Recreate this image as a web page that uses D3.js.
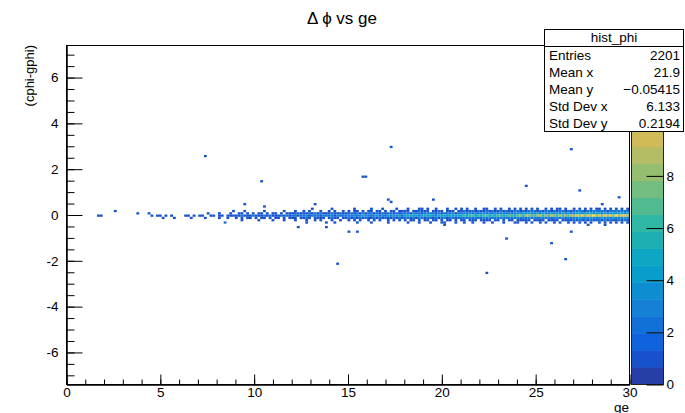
<!DOCTYPE html>
<html><head><meta charset="utf-8">
<script src="https://cdn.jsdelivr.net/npm/d3@7/dist/d3.min.js"></script>
<style>
body{margin:0;background:#fff}
svg{display:block}
text{font-family:"Liberation Sans",Arial,Helvetica,sans-serif;fill:#000}
</style>
</head><body>
<svg id="chart" width="685" height="413"></svg>
<script>
// ---------------- data ----------------
const chartTitle = "Δ ϕ vs ge";
const xTitle = "ge";
const yTitle = "(cphi-gphi)";
const xDomain = [0, 30];
const yDomain = [-7.4, 7.4];
const zDomain = [0, 13];
const xBinWidth = 0.15;
const yBinWidth = 0.1;
const xMajorTicks = [0, 5, 10, 15, 20, 25, 30];
const yMajorTicks = [-6, -4, -2, 0, 2, 4, 6];
const zTicks = [0, 2, 4, 6, 8];
const nContours = 20;

// y-bin index (in units of yBinWidth) of each row string below
const rowBins = [2, 1, 0, -1, -2, -3, -4];
// counts per x-bin (200 bins, base-36 digits), one string per y row
const rowCounts = [
  "00000000000000000000"+"00000000000000000000"+"00000000000000000000"+"00000000000000000000"+"00000001000000100000"+"00100000100010000100"+"01000100100100010010"+"10100100110010100101"+"01010101001010110100"+"10101010110101010101",
  "00000000000000000100"+"00000000000000000000"+"00000000000000000001"+"00010000001000000100"+"01001010001001010010"+"10110101101101011011"+"11011211101121011101"+"12112121121211212112"+"21212221212212122121"+"22321222322212232222",
  "00000000000000000000"+"00000100010000000000"+"00000000001000100010"+"01101010110101101011"+"11211121212111211211"+"12121212212121221212"+"22132212322131222312"+"23232323323232332323"+"33434334343343434343"+"34434443443434434434",
  "00000000000110000000"+"00000000001011010100"+"00110101100110110111"+"11211121112121112121"+"22122312221322213222"+"32323433234232433342"+"44545345454354545445"+"56567565675657656765"+"78698778968798697879"+"8a9b8a9c9a8b9a8c9ab9",
  "00000000000000000000"+"00000000000000100010"+"00001000010000100100"+"10101101011010110101"+"11011210111101211011"+"21212121121212112121"+"22121321221212312212"+"23222322323232232322"+"32323232332323323232"+"33433343334333433343",
  "00000000000000000000"+"00000000000000000000"+"00000000000000000000"+"00100000100001000100"+"01000100101000100100"+"10101001010100101010"+"10110101101101011010"+"11011101111011010110"+"11111011110111101111"+"21212121121212112121",
  "00000000000000000000"+"00000000000000000000"+"00000000000000001000"+"00000000000000000000"+"00000100000000010000"+"00010000100000100000"+"01000100010000100010"+"01001000100100010001"+"10010100101001010010"+"10101010010101010101"
];
// isolated single entries [x, y]
const outlierX = [7.35, 10.4, 17.26, 15.85, 15.95, 26.9, 24.45, 27.3, 29.5, 28.6, 23.5, 26.9, 20.2, 19.55, 25.8, 22.4, 26.6, 14.4, 13.85, 13.9, 12.3, 9.55, 17.1, 17.3, 13.2, 10.6, 15.0, 15.55, 18.9, 8.5, 27.8, 28.7, 20.0];
const outlierY = [2.5, 1.46, 2.98, 1.67, 1.67, 2.9, 1.28, 1.02, 0.77, 0.4, -1.07, -0.72, -0.49, 0.63, -1.24, -2.6, -2.0, -2.15, -0.6, -0.38, -0.53, 0.41, 0.7, 0.5, 0.41, 0.33, -0.72, -0.72, 0.3, -0.38, -0.43, -0.49, -0.37];

const statsName = "hist_phi";
const statsLabels = ["Entries", "Mean x", "Mean y", "Std Dev x", "Std Dev y"];
const statsValues = ["2201", "21.9", "\u22120.05415", "6.133", "0.2194"];

// kBird palette stops
const birdStops = [0, 0.125, 0.25, 0.375, 0.5, 0.625, 0.75, 0.875, 1];
const birdR = [0.2082, 0.0592, 0.0780, 0.0232, 0.1802, 0.5301, 0.8186, 0.9956, 0.9764];
const birdG = [0.1664, 0.3599, 0.5041, 0.6419, 0.7178, 0.7492, 0.7328, 0.7862, 0.9832];
const birdB = [0.5293, 0.8684, 0.8385, 0.7914, 0.6425, 0.4662, 0.3499, 0.1968, 0.0539];

// ---------------- layout ----------------
const frame = {left: 66, right: 629, top: 45, bottom: 384};
const cbar = {left: 631, right: 663};

const svg = d3.select("#chart");
const x = d3.scaleLinear().domain(xDomain).range([frame.left, frame.right]);
const y = d3.scaleLinear().domain(yDomain).range([frame.bottom, frame.top]);
const z = d3.scaleLinear().domain(zDomain).range([frame.bottom, frame.top]);

const rs = d3.scaleLinear().domain(birdStops).range(birdR);
const gs = d3.scaleLinear().domain(birdStops).range(birdG);
const bs = d3.scaleLinear().domain(birdStops).range(birdB);
const nCol = 255;
function bandColor(band) {
  const k = Math.floor((band + 0.99) * nCol / nContours);
  const t = Math.min(k, nCol - 1) / (nCol - 1);
  return d3.rgb(rs(t) * 255, gs(t) * 255, bs(t) * 255).formatHex();
}
function valueColor(v) {
  const band = Math.floor(0.01 + (v - zDomain[0]) * nContours / (zDomain[1] - zDomain[0]));
  return bandColor(Math.min(band, nContours - 1));
}

// build cells
const cellMap = new Map();
rowCounts.forEach((s, r) => {
  for (let i = 0; i < s.length; i++) {
    const c = parseInt(s[i], 36);
    if (c > 0) cellMap.set(i + "," + rowBins[r], c);
  }
});
outlierX.forEach((ox, j) => {
  const ix = Math.floor(ox / xBinWidth), iy = Math.floor(outlierY[j] / yBinWidth);
  const key = ix + "," + iy;
  cellMap.set(key, (cellMap.get(key) || 0) + 1);
});
const cells = Array.from(cellMap, ([k, c]) => { const [ix, iy] = k.split(",").map(Number); return {ix, iy, c}; });

svg.append("g").selectAll("rect").data(cells).join("rect")
  .attr("x", d => x(d.ix * xBinWidth))
  .attr("width", d => x((d.ix + 1) * xBinWidth) - x(d.ix * xBinWidth))
  .attr("y", d => y((d.iy + 1) * yBinWidth))
  .attr("height", d => y(d.iy * yBinWidth) - y((d.iy + 1) * yBinWidth))
  .attr("fill", d => valueColor(d.c));

// frame
svg.append("rect").attr("x", frame.left + 0.5).attr("y", frame.top + 0.5)
  .attr("width", frame.right - frame.left).attr("height", frame.bottom - frame.top)
  .attr("fill", "none").attr("stroke", "#000");

const fontSize = 13.5;
// x axis
const xMinor = d3.range(xDomain[0], xDomain[1] + 0.001, 1);
const gx = svg.append("g").attr("transform", `translate(0.5,${frame.bottom + 0.5})`);
gx.call(d3.axisBottom(x).tickValues(xMinor).tickSizeInner(-5).tickSizeOuter(0).tickFormat(""));
gx.append("g").call(d3.axisBottom(x).tickValues(xMajorTicks).tickSizeInner(-10).tickSizeOuter(0).tickPadding(3).tickFormat(d3.format("d")));
gx.selectAll(".domain").attr("stroke", "#000");
gx.selectAll("line").attr("stroke", "#000");
gx.selectAll("text").attr("font-size", fontSize).attr("font-family", null);

// y axis
const yMinor = d3.range(-7, 7.001, 0.5);
const gy = svg.append("g").attr("transform", `translate(${frame.left + 0.5},0.5)`);
gy.call(d3.axisLeft(y).tickValues(yMinor).tickSizeInner(-8).tickSizeOuter(0).tickFormat(""));
gy.append("g").call(d3.axisLeft(y).tickValues(yMajorTicks).tickSizeInner(-16).tickSizeOuter(0).tickPadding(8).tickFormat(d => d < 0 ? "-" + Math.abs(d) : String(d)));
gy.selectAll(".domain").attr("stroke", "#000");
gy.selectAll("line").attr("stroke", "#000");
gy.selectAll("text").attr("font-size", fontSize).attr("font-family", null);

// colour bar
const bands = d3.range(nContours);
const bandH = (zDomain[1] - zDomain[0]) / nContours;
svg.append("g").selectAll("rect").data(bands).join("rect")
  .attr("x", cbar.left).attr("width", cbar.right - cbar.left)
  .attr("y", d => z((d + 1) * bandH))
  .attr("height", d => z(d * bandH) - z((d + 1) * bandH) + 0.5)
  .attr("fill", d => bandColor(d));
svg.append("rect").attr("x", cbar.left + 0.5).attr("y", frame.top + 0.5)
  .attr("width", cbar.right - cbar.left).attr("height", frame.bottom - frame.top)
  .attr("fill", "none").attr("stroke", "#222");
const gz = svg.append("g").attr("transform", `translate(${cbar.right + 0.5},0.5)`);
gz.call(d3.axisRight(z).tickValues(zTicks).tickSizeInner(-17).tickSizeOuter(0).tickPadding(3).tickFormat(d3.format("d")));
gz.select(".domain").remove();
gz.selectAll("line").attr("stroke", "#000");
gz.selectAll("text").attr("font-size", fontSize).attr("font-family", null);

// axis titles
svg.append("text").attr("x", frame.right).attr("y", 411.5).attr("text-anchor", "end")
  .attr("font-size", fontSize).text(xTitle);
svg.append("text").attr("transform", `translate(34,${frame.top}) rotate(-90)`).attr("text-anchor", "end")
  .attr("font-size", 13).text(yTitle);

// title
svg.append("text").attr("x", 342).attr("y", 24).attr("text-anchor", "middle")
  .attr("font-size", 17).text(chartTitle);

// stats box
const sb = {left: 544, right: 684, top: 29, head: 46, bottom: 131};
const gs2 = svg.append("g");
gs2.append("rect").attr("x", sb.left + 0.5).attr("y", sb.top + 0.5)
  .attr("width", sb.right - sb.left - 1).attr("height", sb.bottom - sb.top)
  .attr("fill", "#fff").attr("stroke", "#000");
gs2.append("line").attr("x1", sb.left).attr("x2", sb.right).attr("y1", sb.head + 0.5).attr("y2", sb.head + 0.5).attr("stroke", "#000");
gs2.append("text").attr("x", (sb.left + sb.right) / 2).attr("y", sb.top + 13).attr("text-anchor", "middle")
  .attr("font-size", fontSize).text(statsName);
const rowH = (sb.bottom - sb.head) / statsLabels.length;
statsLabels.forEach((l, i) => {
  const by = sb.head + rowH * (i + 0.5) + 5;
  gs2.append("text").attr("x", sb.left + 5).attr("y", by).attr("font-size", fontSize).text(l);
  gs2.append("text").attr("x", sb.right - 4).attr("y", by).attr("text-anchor", "end").attr("font-size", fontSize).text(statsValues[i]);
});
</script>
</body></html>
